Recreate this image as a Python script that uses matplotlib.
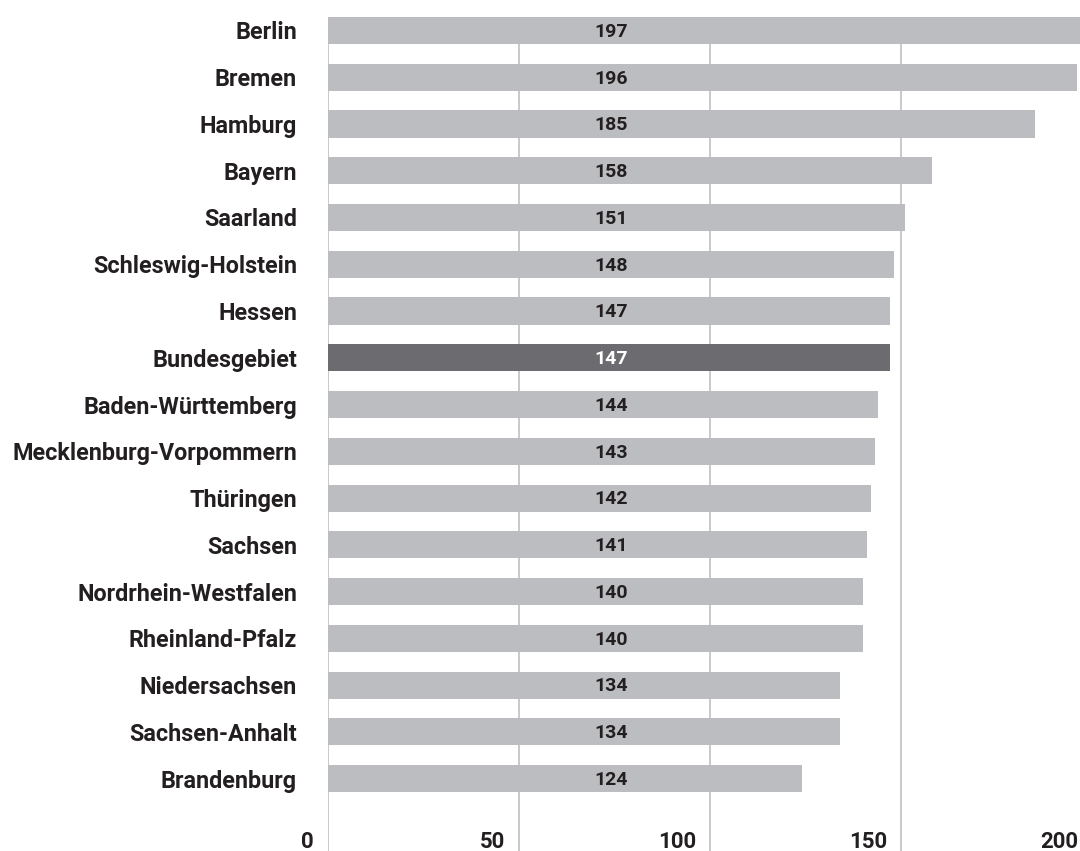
import matplotlib.pyplot as plt
import matplotlib.transforms as mtransforms

laender = ['Berlin', 'Bremen', 'Hamburg', 'Bayern', 'Saarland', 'Schleswig-Holstein',
           'Hessen', 'Bundesgebiet', 'Baden-Württemberg', 'Mecklenburg-Vorpommern',
           'Thüringen', 'Sachsen', 'Nordrhein-Westfalen', 'Rheinland-Pfalz',
           'Niedersachsen', 'Sachsen-Anhalt', 'Brandenburg']
werte = [197, 196, 185, 158, 151, 148, 147, 147, 144, 143, 142, 141, 140, 140, 134, 134, 124]
ticks = [0, 50, 100, 150, 200]
highlight = 'Bundesgebiet'

fam = ['Roboto', 'DejaVu Sans']
txt = '#231f20'
grau = '#bcbdc0'
dunkel = '#6c6c70'

fig = plt.figure(figsize=(10.8, 8.51), dpi=100)
ax = fig.add_axes([327.5 / 1080, 0, 1 - 327.5 / 1080, 1])

ypos = list(range(len(laender)))
farben = [dunkel if l == highlight else grau for l in laender]
ax.barh(ypos, werte, height=0.578, color=farben, zorder=2)

# grid lines start at the top of the first bar
ax.vlines(ticks, -0.29, 17.6, color='#c9c9cb', linewidth=1.4, zorder=1)

for y, (l, v) in enumerate(zip(laender, werte)):
    ax.text(74.1, y + 0.03, str(v), ha='center', va='center', fontsize=14, fontweight='bold',
            family=fam, color='white' if l == highlight else txt, zorder=3)

ax.set_xlim(0, 196.7)
ax.set_ylim(17.55, -0.652)
ax.set_yticks(ypos)
ax.set_yticklabels(laender, fontsize=16.8, fontweight='bold', family=fam, color=txt)
ax.tick_params(axis='y', length=0, pad=22)
ax.set_xticks([])
for s in ax.spines.values():
    s.set_visible(False)

off = mtransforms.ScaledTranslation(-14 / 100, 0, fig.dpi_scale_trans)
for t in ticks:
    ax.text(t, 17.36, str(t), ha='right', va='center', fontsize=16, fontweight='bold',
            family=fam, color=txt, transform=ax.transData + off, clip_on=False)

fig.savefig('out.png', dpi=100)
